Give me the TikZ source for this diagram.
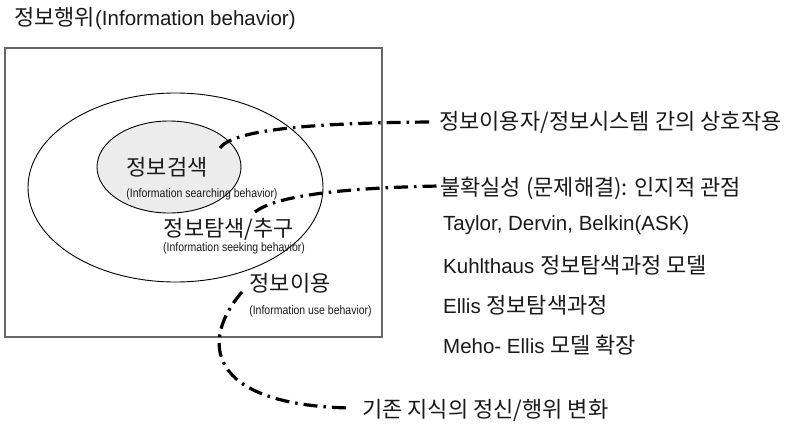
\documentclass[tikz,border=0pt]{standalone}
\usepackage{fontspec}
\usepackage{graphicx}
\setmainfont{Liberation Sans}
\newfontfamily\kr{Noto Sans CJK KR}
\usetikzlibrary{shapes.geometric}
\newcommand\K[1]{{\kr\fontsize{22}{26}\selectfont #1}}
\newcommand\Sm[1]{\scalebox{0.86}[1]{#1}}
\definecolor{txt}{HTML}{1A1A1A}
\definecolor{innerfill}{HTML}{ECECEC}
\definecolor{framecol}{HTML}{666666}
\begin{document}
\begin{tikzpicture}[x=1pt,y=-1pt,
  lbl/.style={inner sep=0pt, text=txt, font=\fontsize{20.5}{24}\selectfont},
  small/.style={inner sep=0pt, text=txt, font=\fontsize{12.2}{14}\selectfont},
  dd/.style={line width=3.2pt, dash pattern=on 14pt off 6pt on 2.5pt off 6pt, draw=black}]
\useasboundingbox (0,0) rectangle (791,423);
\fill[white] (0,0) rectangle (791,423);
% title
\node[lbl, anchor=west] (title) at (14,19) {\K{정보행위}(Information behavior)};
% frame
\node[draw=framecol, line width=1.2pt, minimum width=377pt, minimum height=289pt, inner sep=0pt] (frame) at (193.5,192.5) {};
% ellipses
\node[ellipse, draw, line width=0.9pt, minimum width=295pt, minimum height=189pt, inner sep=0pt] (outer) at (175.5,187.5) {};
\node[ellipse, draw, fill=innerfill, line width=0.9pt, minimum width=144pt, minimum height=92pt, inner sep=0pt] (inner) at (169,167) {};
% labels inside
\node[lbl] (srch) at (167,167) {\K{정보검색}};
\node[small] (srchE) at (202,194) {\Sm{(Information searching behavior)}};
\node[lbl] (seek) at (229,229) {\K{정보탐색/추구}};
\node[small] (seekE) at (234,248) {\Sm{(Information seeking behavior)}};
\node[lbl] (use) at (290,283) {\K{정보이용}};
\node[small] (useE) at (310.5,311) {\Sm{(Information use behavior)}};
% right texts
\node[lbl, anchor=west] (t1) at (439,122) {\K{정보이용자/정보시스템 간의 상호작용}};
\node[lbl, anchor=west] (t2) at (440,188) {\K{불확실성 (문제해결): 인지적 관점}};
\node[lbl, anchor=west] (t3) at (443,225) {Taylor, Dervin, Belkin(ASK)};
\node[lbl, anchor=west] (t4) at (443,265) {Kuhlthaus \K{정보탐색과정 모델}};
\node[lbl, anchor=west] (t5) at (443,305) {Ellis \K{정보탐색과정}};
\node[lbl, anchor=west] (t6) at (443,345) {Meho- Ellis \K{모델 확장}};
\node[lbl, anchor=west] (t7) at (362,410) {\K{기존 지식의 정신/행위 변화}};
% connector endpoints
\coordinate (c1s) at (220,148);
\coordinate (c1e) at (431,122);
\coordinate (c2s) at (255,212);
\coordinate (c2e) at (439,186);
\coordinate (c3s) at (242,292);
\coordinate (c3e) at (350,408);
\draw[dd] (c1s) .. controls (232,131) and (300,123) .. (c1e);
\draw[dd] (c2s) .. controls (275,196) and (340,188) .. (c2e);
\draw[dd] (c3s) .. controls (200,340) and (205,405) .. (c3e);
\end{tikzpicture}
\end{document}
